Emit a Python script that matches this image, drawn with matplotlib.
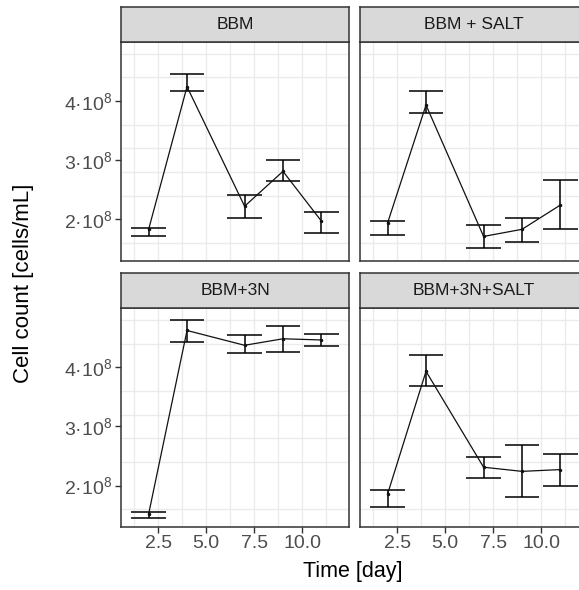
import numpy as np
import matplotlib
matplotlib.use("Agg")
import matplotlib.pyplot as plt

plt.rcParams['font.family'] = ['Liberation Sans', 'DejaVu Sans']
plt.rcParams['mathtext.fontset'] = 'custom'
plt.rcParams['mathtext.rm'] = 'Liberation Sans'
plt.rcParams['mathtext.it'] = 'Liberation Sans'

# data (cells/mL, in units of 1e8)
days = [2, 4, 7, 9, 11]
panels = ["BBM", "BBM + SALT", "BBM+3N", "BBM+3N+SALT"]
mean_bbm = [1.83, 4.24, 2.22, 2.81, 1.97]
low_bbm = [1.71, 4.16, 2.02, 2.65, 1.76]
high_bbm = [1.86, 4.45, 2.41, 3.00, 2.13]
mean_salt = [1.94, 3.93, 1.71, 1.83, 2.24]
low_salt = [1.73, 3.80, 1.52, 1.61, 1.84]
high_salt = [1.97, 4.17, 1.91, 2.02, 2.67]
mean_3n = [1.52, 4.62, 4.37, 4.48, 4.46]
low_3n = [1.45, 4.43, 4.24, 4.25, 4.36]
high_3n = [1.55, 4.79, 4.54, 4.69, 4.56]
mean_3n_salt = [1.86, 3.93, 2.31, 2.24, 2.27]
low_3n_salt = [1.63, 3.69, 2.12, 1.81, 1.99]
high_3n_salt = [1.92, 4.21, 2.49, 2.68, 2.54]

means = [mean_bbm, mean_salt, mean_3n, mean_3n_salt]
lows = [low_bbm, low_salt, low_3n, low_3n_salt]
highs = [high_bbm, high_salt, high_3n, high_3n_salt]

x_ticks = [2.5, 5.0, 7.5, 10.0]
x_tick_labels = ["2.5", "5.0", "7.5", "10.0"]
y_ticks = [2e8, 3e8, 4e8]
y_tick_labels = [r"2·10$^{8}$", r"3·10$^{8}$", r"4·10$^{8}$"]

W, H = 579, 590
fig = plt.figure(figsize=(W / 100, H / 100), dpi=100)

col_x = [121, 360]
pan_w = 228
row_top = [41.7, 308]
pan_h = 219
strip_h = 35

border = "#333333"
grid_c = "#EBEBEB"
half_w = 0.9  # half width of errorbar caps

for i, name in enumerate(panels):
    r, c = divmod(i, 2)
    x0 = col_x[c]
    top = row_top[r]
    ax = fig.add_axes([x0 / W, 1 - (top + pan_h) / H, pan_w / W, pan_h / H])
    st = fig.add_axes([x0 / W, 1 - top / H, pan_w / W, strip_h / H])

    m = np.array(means[i]) * 1e8
    lo = np.array(lows[i]) * 1e8
    hi = np.array(highs[i]) * 1e8
    d = np.array(days)

    ax.vlines(d, lo, hi, color="black", lw=1.1, zorder=3)
    ax.hlines(lo, d - half_w, d + half_w, color="black", lw=1.1, zorder=3)
    ax.hlines(hi, d - half_w, d + half_w, color="black", lw=1.1, zorder=3)
    ax.plot(d, m, color="#111111", lw=0.9, marker="o", ms=1.5, zorder=4)

    ax.set_xlim(0.56, 12.44)
    ax.set_ylim(1.3e8, 5.0e8)
    ax.set_xticks(x_ticks)
    ax.set_xticks([1.25, 3.75, 6.25, 8.75, 11.25], minor=True)
    ax.set_yticks(y_ticks)
    ax.set_yticks(np.arange(1.6, 4.81, 0.4) * 1e8, minor=True)
    ax.grid(which="minor", color=grid_c, lw=1.0, zorder=0)
    ax.grid(which="major", axis="x", color=grid_c, lw=1.0, zorder=0)
    ax.set_axisbelow(True)
    ax.tick_params(which="minor", length=0)
    ax.tick_params(which="major", length=4, width=1.0, color=border,
                   labelsize=14, labelcolor="#4D4D4D", pad=2)
    if r == 1:
        ax.set_xticklabels(x_tick_labels)
    else:
        ax.tick_params(axis="x", length=0, labelbottom=False)
    if c == 0:
        ax.set_yticklabels(y_tick_labels)
    else:
        ax.tick_params(axis="y", length=0, labelleft=False)
    for s in ax.spines.values():
        s.set_color(border)
        s.set_linewidth(1.1)

    st.set_facecolor("#D9D9D9")
    st.set_xticks([])
    st.set_yticks([])
    for s in st.spines.values():
        s.set_color(border)
        s.set_linewidth(1.1)
    st.text(0.5, 0.5, name, ha="center", va="center", fontsize=12.5,
            color="#1A1A1A", transform=st.transAxes)

fig.text(353 / W, 1 - 572 / H, "Time [day]", ha="center", va="center",
         fontsize=15.5, color="black")
fig.text(24 / W, 1 - 283 / H, "Cell count [cells/mL]", ha="center",
         va="center", rotation=90, fontsize=16, color="black")

fig.savefig("out.png", dpi=100, facecolor="white")
